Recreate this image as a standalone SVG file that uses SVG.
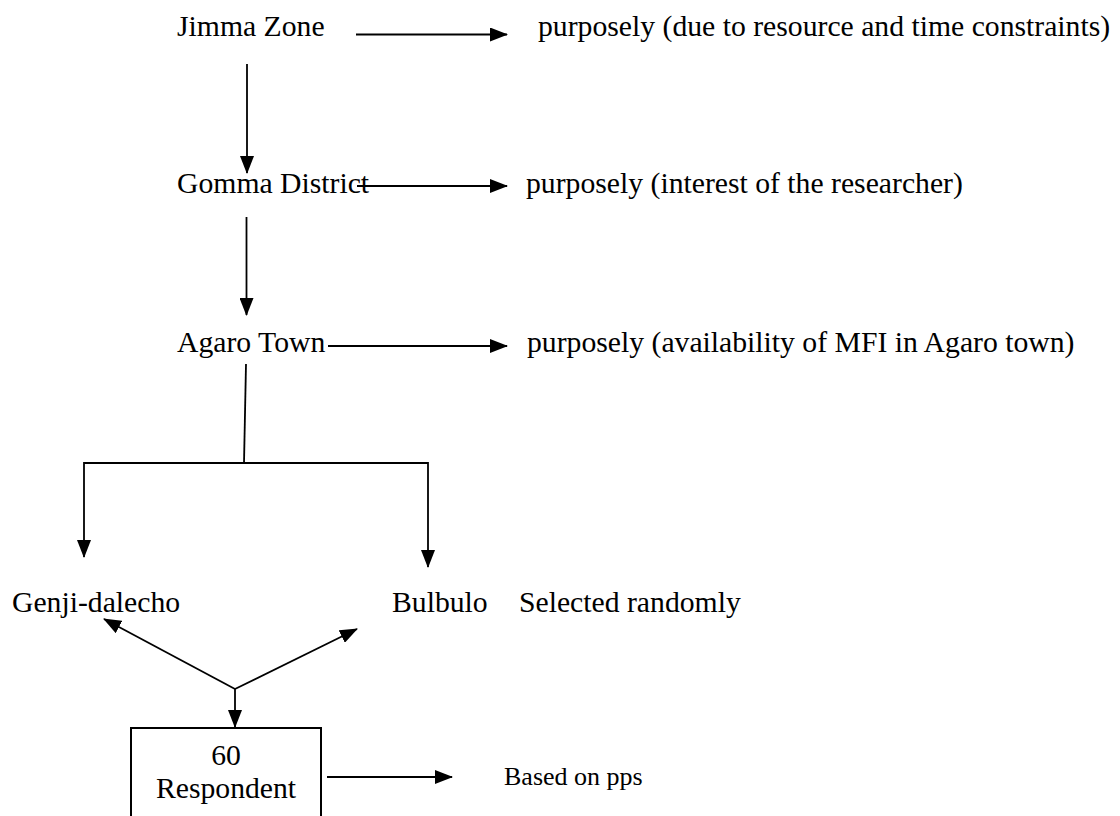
<svg xmlns="http://www.w3.org/2000/svg" width="1120" height="816" viewBox="0 0 1120 816" font-family="'Liberation Serif', 'Times New Roman', serif">
<style>
text{font-family:'Liberation Serif','Times New Roman',serif;font-size:29.7px;fill:#000}
.small{font-size:26px}
.c line,.c polyline{stroke:#000;stroke-width:1.8;fill:none}
.box{fill:#fff;stroke:#000;stroke-width:2}
</style>
<defs>
<marker id="ah" markerUnits="userSpaceOnUse" viewBox="0 0 18 14" markerWidth="18" markerHeight="14" refX="17" refY="7" orient="auto">
<path d="M0,0 L18,7 L0,14 Z" fill="#000"/>
</marker>
</defs>
<rect width="1120" height="816" fill="#fff"/>
<g class="c" id="connectors">
<line x1="356" y1="34.5" x2="507" y2="34.5" marker-end="url(#ah)"/>
<line x1="247" y1="64" x2="247" y2="173" marker-end="url(#ah)"/>
<line x1="357" y1="186" x2="507" y2="186" marker-end="url(#ah)"/>
<line x1="246.5" y1="217" x2="246.5" y2="315" marker-end="url(#ah)"/>
<line x1="328" y1="346" x2="507" y2="346" marker-end="url(#ah)"/>
<line x1="246" y1="364" x2="244" y2="463"/>
<polyline points="84,463 428,463"/>
<line x1="84" y1="462.1" x2="84" y2="557" marker-end="url(#ah)"/>
<line x1="428" y1="462.1" x2="428" y2="567" marker-end="url(#ah)"/>
<line x1="235" y1="689" x2="104" y2="619" marker-end="url(#ah)"/>
<line x1="235" y1="689" x2="357" y2="629" marker-end="url(#ah)"/>
<line x1="235" y1="689" x2="235" y2="727" marker-end="url(#ah)"/>
<line x1="327" y1="777" x2="452" y2="777" marker-end="url(#ah)"/>
</g>
<g id="jimma"><text x="177" y="36">Jimma Zone</text></g>
<g id="note1"><text x="538" y="36">purposely (due to resource and time constraints)</text></g>
<g id="gomma"><text x="177" y="193">Gomma District</text></g>
<g id="note2"><text x="526" y="193">purposely (interest of the researcher)</text></g>
<g id="agaro"><text x="177" y="352">Agaro Town</text></g>
<g id="note3"><text x="527" y="352">purposely (availability of MFI in Agaro town)</text></g>
<g id="genji"><text x="12" y="612">Genji-dalecho</text></g>
<g id="bulbulo"><text x="392" y="612">Bulbulo</text></g>
<g id="note4"><text x="519" y="612">Selected randomly</text></g>
<g id="respondent">
<rect class="box" x="131" y="728" width="190" height="100"/>
<text x="226" y="765" text-anchor="middle">60</text>
<text x="226" y="798" text-anchor="middle">Respondent</text>
</g>
<g id="note5"><text class="small" x="504" y="785">Based on pps</text></g>
</svg>
